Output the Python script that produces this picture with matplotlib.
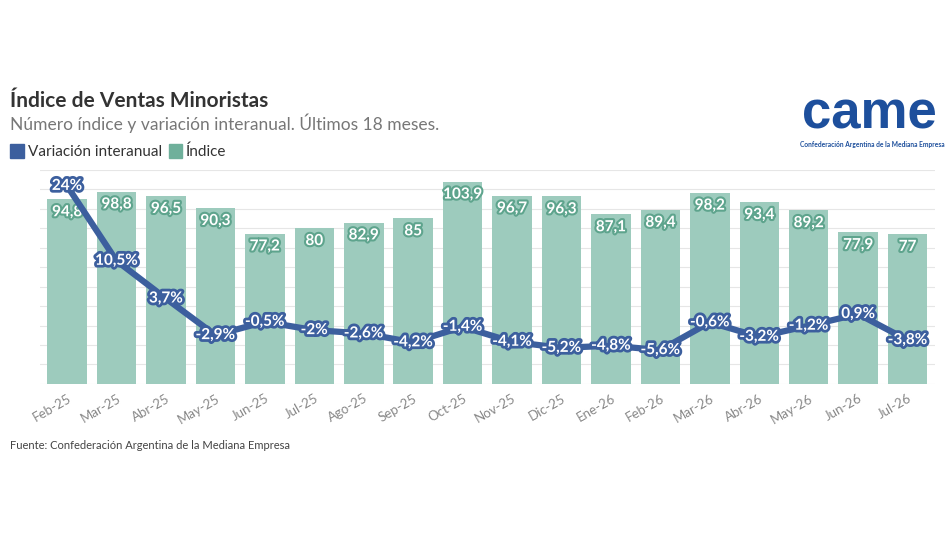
import matplotlib
matplotlib.use('Agg')
import matplotlib.pyplot as plt
import matplotlib.patheffects as pe
from matplotlib.patches import Rectangle

plt.rcParams['font.family'] = ['Lato', 'DejaVu Sans']

meses = ["Feb-25", "Mar-25", "Abr-25", "May-25", "Jun-25", "Jul-25", "Ago-25", "Sep-25", "Oct-25",
         "Nov-25", "Dic-25", "Ene-26", "Feb-26", "Mar-26", "Abr-26", "May-26", "Jun-26", "Jul-26"]
indice = [94.8, 98.8, 96.5, 90.3, 77.2, 80, 82.9, 85, 103.9, 96.7, 96.3, 87.1, 89.4, 98.2, 93.4, 89.2, 77.9, 77]
variacion = [24, 10.5, 3.7, -2.9, -0.5, -2, -2.6, -4.2, -1.4, -4.1, -5.2, -4.8, -5.6, -0.6, -3.2, -1.2, 0.9, -3.8]

BAR = '#9dcbbd'
BAR_DARK = '#5ea48d'
LINE = '#3c5f9e'

def fmt(v):
    s = f"{v:g}".replace('.', ',')
    return s

fig = plt.figure(figsize=(9.5, 5.34), dpi=100)
ax = fig.add_axes([0.042, 0.281, 0.942, 0.401])
x = list(range(len(meses)))
ax.bar(x, indice, width=0.8, color=BAR, zorder=2)
ax.set_ylim(0, 110)
ax.set_xlim(-0.55, len(meses) - 0.45)
ax.set_yticks(range(0, 111, 10))
ax.set_yticklabels([])
ax.tick_params(axis='y', length=0)
ax.tick_params(axis='x', length=0, pad=6)
ax.grid(axis='y', color='#e6e6e6', lw=0.8, zorder=0)
for s in ax.spines.values():
    s.set_visible(False)
ax.set_xticks(x)
ax.set_xticklabels(meses, rotation=30, ha='right', rotation_mode='anchor', color='#888888', fontsize=9.5)

for xi, v in zip(x, indice):
    ax.text(xi, v - 3, fmt(v), ha='center', va='top', color='white', fontsize=11, fontweight='bold',
            path_effects=[pe.withStroke(linewidth=3, foreground=BAR_DARK)], zorder=3)

ax2 = ax.twinx()
ax2.set_ylim(-11.7, 26.9)
ax2.axis('off')
ax2.plot(x, variacion, color=LINE, lw=4.5, solid_capstyle='round', solid_joinstyle='round', zorder=4)
for xi, v in zip(x, variacion):
    ax2.text(xi, v, fmt(v) + '%', ha='center', va='center', color='white', fontsize=11, fontweight='bold',
             path_effects=[pe.withStroke(linewidth=4, foreground=LINE)], zorder=5)

fig.text(0.011, 0.80, "Índice de Ventas Minoristas", fontsize=15, fontweight='bold', color='#333333')
fig.text(0.011, 0.757, "Número índice y variación interanual. Últimos 18 meses.", fontsize=12.5, color='#777777')
fig.patches.append(Rectangle((0.011, 0.705), 0.014, 0.026, transform=fig.transFigure, color=LINE))
fig.text(0.029, 0.708, "Variación interanual", fontsize=11, color='#333333')
fig.patches.append(Rectangle((0.178, 0.705), 0.014, 0.026, transform=fig.transFigure, color='#6fb09b'))
fig.text(0.196, 0.708, "Índice", fontsize=11, color='#333333')

fig.text(0.011, 0.16, "Fuente: Confederación Argentina de la Mediana Empresa", fontsize=8, color='#444444')

# logo
fig.text(0.915, 0.76, "came", fontsize=38, fontweight='bold', color='#1d4f9c', ha='center', family='Liberation Sans')
fig.text(0.918, 0.725, "Confederación Argentina de la Mediana Empresa", fontsize=4.8, color='#1d4f9c',
         ha='center', fontweight='bold')

fig.savefig('out.png', dpi=100)
